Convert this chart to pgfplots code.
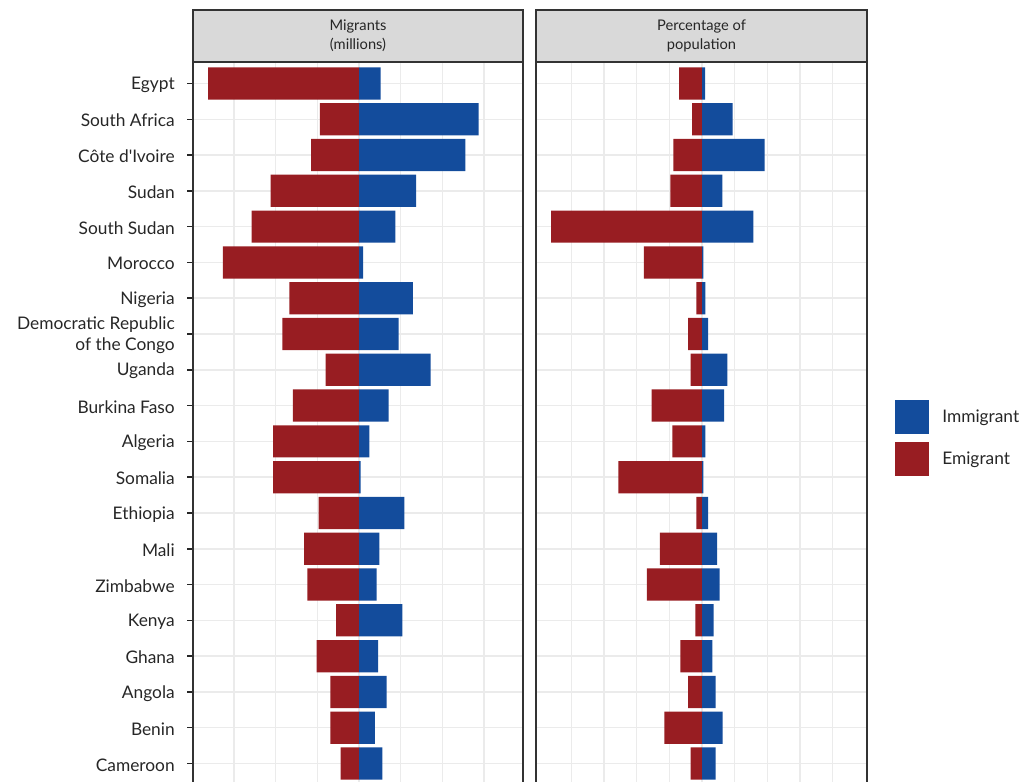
\documentclass[border=0pt]{standalone}
\usepackage{fontspec}
\setmainfont{Lato}
\usepackage{pgfplots}
\usepackage{pgfplotstable}
\pgfplotsset{compat=1.18}

\definecolor{emi}{RGB}{152,29,34}
\definecolor{imm}{RGB}{19,76,156}
\definecolor{strip}{RGB}{217,217,217}
\definecolor{gridc}{RGB}{235,235,235}

% y: 0 = Cameroon (bottom) ... 19 = Egypt (top)
\pgfplotstableread{
y  emi    imm
19 -3.62  0.52
18 -0.94  2.87
17 -1.15  2.55
16 -2.12  1.37
15 -2.58  0.87
14 -3.27  0.10
13 -1.67  1.29
12 -1.84  0.95
11 -0.80  1.72
10 -1.59  0.71
9  -2.06  0.25
8  -2.06  0.04
7  -0.97  1.09
6  -1.32  0.49
5  -1.24  0.42
4  -0.55  1.04
3  -1.02  0.46
2  -0.69  0.66
1  -0.69  0.38
0  -0.44  0.56
}\millions

\pgfplotstableread{
y  emi     imm
19 -3.52   0.46
18 -1.53   4.69
17 -4.39   9.59
16 -4.85   3.11
15 -23.10  7.86
14 -8.88   0.20
13 -0.87   0.51
12 -2.14   0.92
11 -1.73   3.88
10 -7.70   3.37
9  -4.54   0.51
8  -12.80  0.20
7  -0.87   0.92
6  -6.43   2.30
5  -8.42   2.70
4  -1.02   1.79
3  -3.32   1.58
2  -2.14   2.09
1  -5.77   3.16
0  -1.73   2.09
}\percent

\pgfplotsset{
  panel/.style={
    scale only axis,
    width=247.5pt, height=542.25pt,
    anchor=north west,
    xbar, bar width=0.9, bar shift=0pt,
    ymin=-0.6, ymax=19.6,
    ytick={0,...,19},
    xmajorgrids, ymajorgrids,
    grid style={gridc, line width=1.1pt},
    axis line style={black!80, line width=0.8pt},
    xticklabels={},
    xtick style={draw=none},
  },
  bars/.style={fill=#1, draw=none},
  sqkey/.style={legend image code/.code={
    \fill[#1] (0pt,-12.75pt) rectangle (25.5pt,12.75pt);}},
}

\begin{document}
\begin{tikzpicture}
\useasboundingbox (0pt,0pt) rectangle (767.25pt,585.75pt);
\clip (0pt,0pt) rectangle (767.25pt,585.75pt);

\begin{axis}[panel,
  at={(144.75pt,539.25pt)},
  xmin=-3.984, xmax=3.936,
  xtick={-3,...,3},
  yticklabels={Cameroon,Benin,Angola,Ghana,Kenya,Zimbabwe,Mali,Ethiopia,Somalia,Algeria,Burkina Faso,Uganda,{Democratic Republic\\of the Congo},Nigeria,Morocco,South Sudan,Sudan,{Côte d\textquotesingle Ivoire},South Africa,Egypt},
  yticklabel style={font=\fontsize{13}{15.5}\selectfont, align=right, text=black!85, inner sep=0pt, xshift=-9pt, yshift=-1pt},
  ytick pos=left,
  ytick align=outside,
  major tick length=4.5pt,
  ytick style={draw=black!85, line width=1.1pt},
]
\addplot[bars=emi] table[x=emi, y=y] {\millions};
\addplot[bars=imm] table[x=imm, y=y] {\millions};
\end{axis}

\begin{axis}[panel,
  at={(402pt,539.25pt)},
  width=248.25pt,
  xmin=-25.41, xmax=25.26,
  xtick={-20,-15,...,20},
  yticklabels={},
  major tick length=0pt,
  legend style={at={(axis description cs:1.0846,0.5325)}, anchor=north west,
    draw=none, fill=none, inner sep=0pt, row sep=6pt,
    nodes={inner sep=0pt, text=black!85, font=\fontsize{13}{15}\selectfont},
    /tikz/every odd column/.append style={column sep=9.75pt}},
  legend cell align=left,
]
\addplot[bars=imm, sqkey] table[x=imm, y=y] {\percent};
\addlegendentry{Immigrant}
\addplot[bars=emi, sqkey] table[x=emi, y=y] {\percent};
\addlegendentry{Emigrant}
\end{axis}

\begin{scope}[x=0.75pt, y=-0.75pt, yshift=585.75pt]
\draw[fill=strip, draw=black!80, line width=0.8pt] (193,10) rectangle (523,62);
\draw[fill=strip, draw=black!80, line width=0.8pt] (536,10) rectangle (867,62);
\node[align=center, text=black!85, font=\fontsize{11}{14}\selectfont] at (358,36) {Migrants\\(millions)};
\node[align=center, text=black!85, font=\fontsize{11}{14}\selectfont] at (701.5,36) {Percentage of\\population};
\end{scope}
\end{tikzpicture}
\end{document}
